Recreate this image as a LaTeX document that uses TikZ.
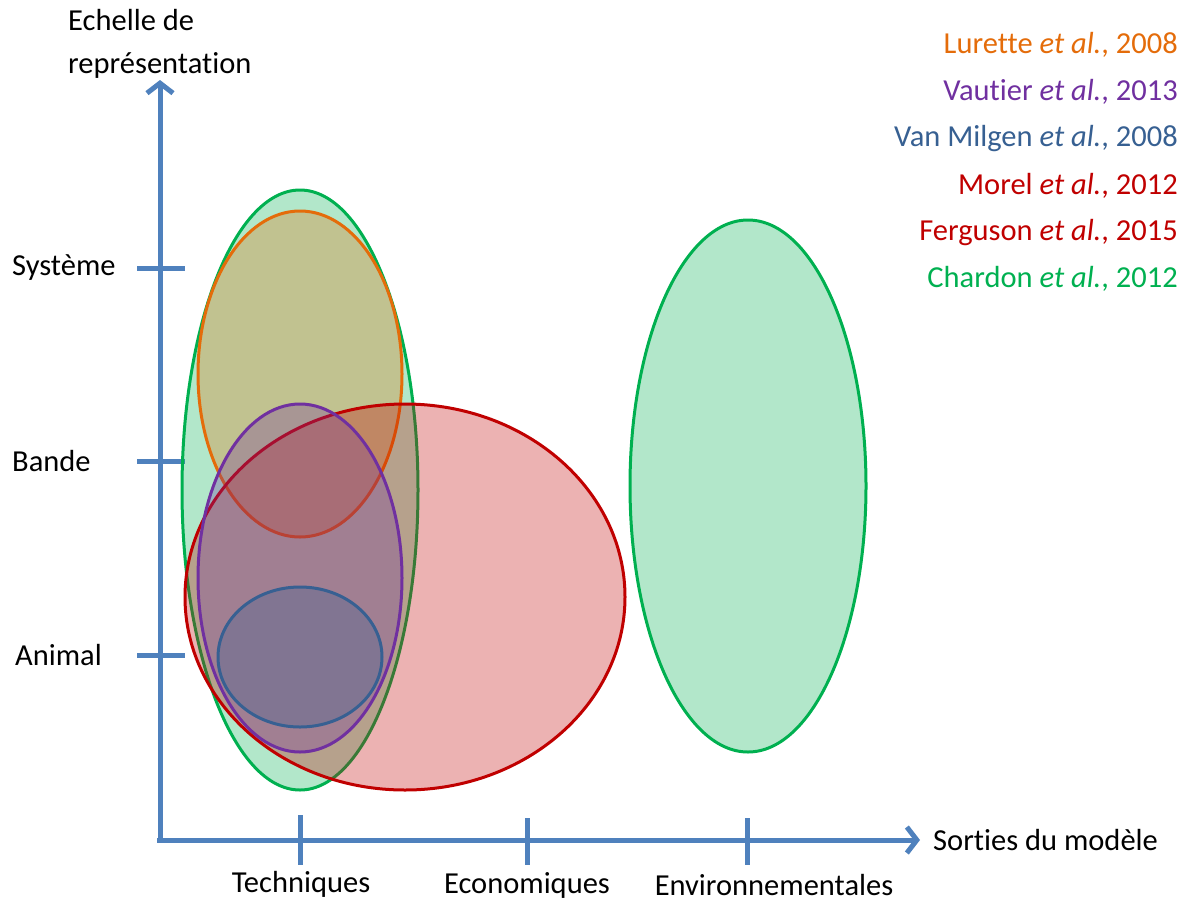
\documentclass[tikz,border=0pt]{standalone}
\usepackage{fontspec}
\setmainfont[Ligatures=NoCommon]{Carlito}
\usetikzlibrary{arrows.meta,shapes.geometric}

\definecolor{axisblue}{HTML}{4F81BD}
\definecolor{lurettec}{HTML}{E46C0A}
\definecolor{vautierc}{HTML}{7030A0}
\definecolor{milgenc}{HTML}{376092}
\definecolor{morelc}{HTML}{C00000}
\definecolor{chardonc}{HTML}{00B050}

\begin{document}
\begin{tikzpicture}[x=1pt, y=-1pt,
                    font=\fontsize{30.5}{43}\selectfont]
    \tikzstyle{axis}=[draw=axisblue,
                      line width=5pt]
    \tikzstyle{zone}=[ellipse,
                      inner sep=0pt,
                      line width=3pt,
                      fill opacity=0.3]
    \tikzstyle{legend}=[anchor=east,
                        inner sep=0pt]
    \tikzstyle{lbl}=[inner sep=0pt]

    \useasboundingbox (0,0) rectangle (1186,903);

    % axes
    \coordinate (origin) at (160,843);
    \coordinate (ytip) at (160,80);
    \coordinate (xstart) at (157,840);
    \coordinate (xtip) at (920,840);
    \draw[axis, -{Straight Barb[length=10pt,width=26pt]}] (origin) -- (ytip);
    \draw[axis, -{Straight Barb[length=10pt,width=26pt]}] (xstart) -- (xtip);

    \draw[axis] (137,268) -- (185,268);
    \draw[axis] (137,461) -- (185,461);
    \draw[axis] (137,655) -- (185,655);
    \draw[axis] (300,815) -- (300,865);
    \draw[axis] (527,818) -- (527,865);
    \draw[axis] (747,818) -- (747,865);

    \node[lbl, anchor=north west, align=left] (yname) at (68,9) {Echelle de\\repr\'esentation};
    \node[lbl, anchor=west] (xname) at (933,840) {Sorties du mod\`ele};
    \node[lbl, anchor=west] (systeme) at (12,268) {Syst\`eme};
    \node[lbl, anchor=west] (bande) at (12,461) {Bande};
    \node[lbl, anchor=west] (animal) at (15,655) {Animal};
    \node[lbl] (techniques) at (301,884) {Techniques};
    \node[lbl] (economiques) at (527,885) {Economiques};
    \node[lbl] (environ) at (774,885) {Environnementales};

    % zones
    \node[zone, draw=chardonc, fill=chardonc, minimum width=236pt, minimum height=600pt] (chardon) at (300,490) {};
    \node[zone, draw=chardonc, fill=chardonc, minimum width=236pt, minimum height=532pt] (chardonenv) at (748,486) {};
    \node[zone, draw=lurettec, fill=lurettec, minimum width=204pt, minimum height=326pt] (lurette) at (300,374) {};
    \node[zone, draw=morelc, fill=morelc, minimum width=440pt, minimum height=386pt] (morel) at (405,597) {};
    \node[zone, draw=vautierc, fill=vautierc, minimum width=204pt, minimum height=348pt] (vautier) at (300,578) {};
    \node[zone, draw=milgenc, fill=milgenc, minimum width=164pt, minimum height=140pt] (milgen) at (300,657) {};

    % legend
    \node[legend, text=lurettec] (lurettelbl) at (1178,45) {Lurette \textit{et al.}, 2008};
    \node[legend, text=vautierc] (vautierlbl) at (1178,92) {Vautier \textit{et al.}, 2013};
    \node[legend, text=milgenc] (milgenlbl) at (1178,139) {Van Milgen \textit{et al.}, 2008};
    \node[legend, text=morelc] (morellbl) at (1178,186) {Morel \textit{et al.}, 2012};
    \node[legend, text=morelc] (fergusonlbl) at (1178,233) {Ferguson \textit{et al.}, 2015};
    \node[legend, text=chardonc] (chardonlbl) at (1178,279) {Chardon \textit{et al.}, 2012};
\end{tikzpicture}
\end{document}
